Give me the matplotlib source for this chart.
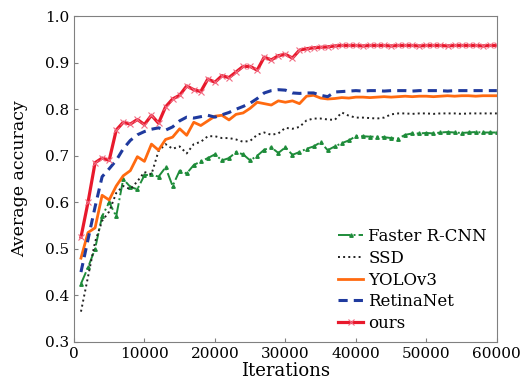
import numpy as np
import matplotlib.pyplot as plt

iters = np.arange(1000, 61000, 1000)

faster_rcnn = [0.425, 0.46, 0.50, 0.57, 0.60, 0.57, 0.65, 0.633, 0.628, 0.658,
               0.66, 0.655, 0.675, 0.635, 0.668, 0.662, 0.68, 0.688, 0.695, 0.703,
               0.69, 0.695, 0.708, 0.703, 0.69, 0.70, 0.713, 0.718, 0.706, 0.718,
               0.702, 0.708, 0.715, 0.72, 0.729, 0.712, 0.72, 0.727, 0.733, 0.742,
               0.742, 0.741, 0.741, 0.740, 0.738, 0.737, 0.745, 0.748, 0.748, 0.749,
               0.748, 0.750, 0.751, 0.750, 0.749, 0.750, 0.751, 0.750, 0.750, 0.750]
ssd = [0.365, 0.44, 0.515, 0.56, 0.58, 0.62, 0.635, 0.628, 0.645, 0.665,
       0.66, 0.71, 0.725, 0.715, 0.72, 0.705, 0.725, 0.73, 0.742, 0.742,
       0.738, 0.738, 0.735, 0.73, 0.732, 0.745, 0.75, 0.745, 0.748, 0.76,
       0.758, 0.762, 0.776, 0.78, 0.78, 0.778, 0.777, 0.793, 0.786, 0.782,
       0.782, 0.781, 0.780, 0.782, 0.789, 0.791, 0.791, 0.790, 0.791, 0.791,
       0.790, 0.791, 0.791, 0.791, 0.790, 0.791, 0.791, 0.791, 0.791, 0.791]
yolov3 = [0.48, 0.535, 0.545, 0.615, 0.605, 0.635, 0.657, 0.668, 0.698, 0.688,
          0.725, 0.712, 0.735, 0.74, 0.758, 0.744, 0.772, 0.765, 0.775, 0.785,
          0.787, 0.777, 0.789, 0.792, 0.802, 0.815, 0.812, 0.809, 0.818, 0.815,
          0.818, 0.812, 0.828, 0.83, 0.824, 0.822, 0.823, 0.825, 0.824, 0.826,
          0.826, 0.825, 0.826, 0.827, 0.826, 0.827, 0.828, 0.827, 0.828, 0.828,
          0.827, 0.828, 0.829, 0.828, 0.829, 0.829, 0.828, 0.829, 0.829, 0.829]
retinanet = [0.45, 0.52, 0.59, 0.655, 0.672, 0.69, 0.715, 0.733, 0.745, 0.752,
             0.757, 0.760, 0.755, 0.762, 0.775, 0.783, 0.781, 0.784, 0.787, 0.783,
             0.788, 0.793, 0.800, 0.806, 0.813, 0.823, 0.835, 0.84, 0.842, 0.841,
             0.835, 0.834, 0.835, 0.835, 0.83, 0.827, 0.837, 0.838, 0.839, 0.840,
             0.839, 0.840, 0.840, 0.839, 0.840, 0.840, 0.840, 0.839, 0.840, 0.840,
             0.840, 0.840, 0.839, 0.840, 0.840, 0.840, 0.840, 0.840, 0.840, 0.840]
ours = [0.525, 0.60, 0.685, 0.695, 0.69, 0.755, 0.772, 0.768, 0.778, 0.767,
        0.787, 0.770, 0.805, 0.822, 0.83, 0.85, 0.842, 0.838, 0.865, 0.858,
        0.872, 0.868, 0.88, 0.892, 0.892, 0.884, 0.912, 0.906, 0.915, 0.918,
        0.910, 0.927, 0.930, 0.932, 0.933, 0.934, 0.936, 0.937, 0.937, 0.937,
        0.936, 0.937, 0.937, 0.937, 0.936, 0.937, 0.937, 0.937, 0.936, 0.937,
        0.937, 0.937, 0.936, 0.937, 0.937, 0.937, 0.937, 0.936, 0.937, 0.937]

plt.rcParams['font.family'] = ['DejaVu Serif']
plt.rcParams['mathtext.fontset'] = 'dejavuserif'

fig = plt.figure(figsize=(5.28, 3.85), dpi=100)
ax = fig.add_axes([0.140, 0.112, 0.801, 0.846])

ax.plot(iters, faster_rcnn, color='#1e8c3a', lw=1.4, ls='-.', marker='^',
        ms=2.5, markevery=1, label='Faster R-CNN')
ax.plot(iters, ssd, color='#222222', lw=1.4, ls=':', label='SSD')
ax.plot(iters, yolov3, color='#ff6a10', lw=2.0, ls='-', label='YOLOv3')
ax.plot(iters, retinanet, color='#1f3a9e', lw=2.2, ls=(0, (3, 2)), label='RetinaNet')
ax.plot(iters, ours, color='#e8192c', lw=2.3, ls='-', marker='x', ms=4,
        mew=0.8, mec='#f26b82', label='ours')

ax.set_xlim(0, 60000)
ax.set_ylim(0.3, 1.0)
ax.set_xticks(np.arange(0, 60001, 10000))
ax.set_yticks(np.arange(0.3, 1.01, 0.1))
ax.set_yticklabels([f'{v:.1f}' for v in np.arange(0.3, 1.01, 0.1)])
ax.tick_params(direction='in', labelsize=11, length=3, color='#808080')
for s in ax.spines.values():
    s.set_color('#808080')

ax.set_xlabel('Iterations', fontsize=13, labelpad=1)
ax.set_ylabel('Average accuracy', fontsize=12.5, labelpad=12)

ax.legend(loc='lower right', frameon=False, fontsize=12, handlelength=1.5,
          handletextpad=0.3, labelspacing=0.28, borderaxespad=0.2)

fig.savefig('out.png', dpi=100)
